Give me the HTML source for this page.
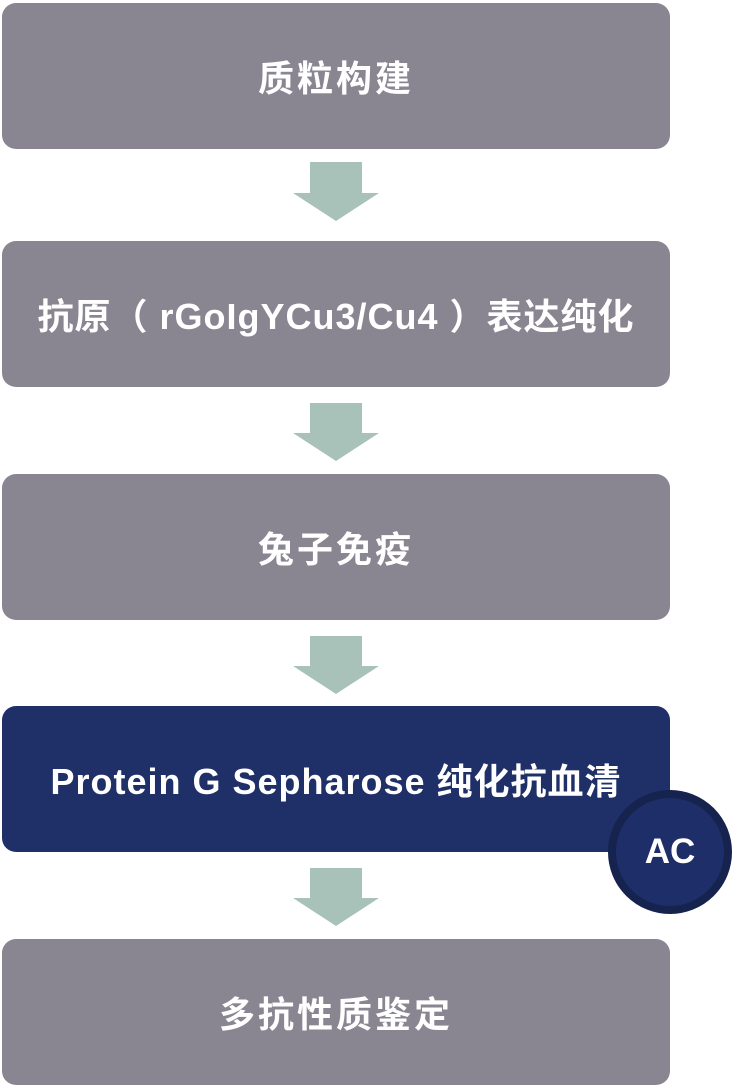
<!DOCTYPE html>
<html><head><meta charset="utf-8"><style>
body{margin:0;width:734px;height:1088px;background:#fff;position:relative;overflow:hidden;font-family:"Liberation Sans","Noto Sans CJK SC",sans-serif}
.b{position:absolute;left:2px;width:668px;height:146px;border-radius:14px;background:#898692;color:#fff;font-weight:bold;font-size:36px;display:flex;align-items:center;justify-content:center;letter-spacing:1px;white-space:nowrap}
.n{background:#1f2f68}
svg{position:absolute;left:0;top:0}
.c{position:absolute;left:608px;top:790px;width:108px;height:108px;border-radius:50%;background:#1e2e69;border:8px solid #16234f;color:#fff;font-weight:bold;font-size:35px;display:flex;align-items:center;justify-content:center}
</style></head><body>
<div class="b" style="top:3px;letter-spacing:3px">质粒构建</div>
<div class="b" style="top:241px">抗原（ rGoIgYCu3/Cu4 ）表达纯化</div>
<div class="b" style="top:474px;letter-spacing:3px">兔子免疫</div>
<div class="b n" style="top:706px">Protein G Sepharose 纯化抗血清</div>
<div class="b" style="top:939px;letter-spacing:3px">多抗性质鉴定</div>
<svg width="734" height="1088">
<g fill="#a9c2b9">
<polygon points="310,162 362,162 362,193 379,193 336,221 293,193 310,193"/>
<polygon points="310,403 362,403 362,433 379,433 336,461 293,433 310,433"/>
<polygon points="310,636 362,636 362,666 379,666 336,694 293,666 310,666"/>
<polygon points="310,868 362,868 362,898 379,898 336,926 293,898 310,898"/>
</g></svg>
<div class="c">AC</div>
</body></html>
